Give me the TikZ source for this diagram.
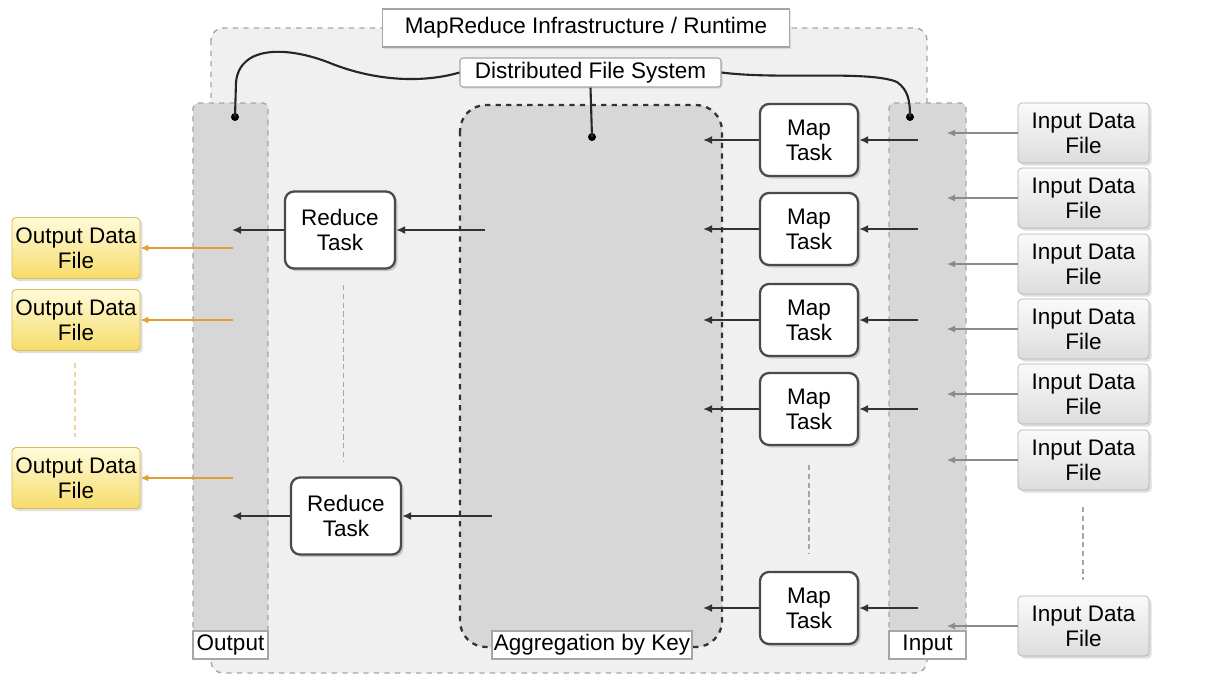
\documentclass[tikz,border=0pt]{standalone}
\usepackage{fontspec}
\setmainfont{Liberation Sans}
\usetikzlibrary{arrows.meta,shadows}
\newcommand\pxu{0.02cm}
\definecolor{framefill}{HTML}{F0F0F0}
\definecolor{framedraw}{HTML}{A6A6A6}
\definecolor{colfill}{HTML}{D7D7D7}
\definecolor{darkline}{HTML}{333333}
\definecolor{taskdraw}{HTML}{4A4A4A}
\definecolor{inarrowc}{HTML}{8A8A8A}
\definecolor{outarrowc}{HTML}{E0A030}
\definecolor{yellowtop}{HTML}{FFFBDA}
\definecolor{yellowbot}{HTML}{F6DC6A}
\definecolor{yellowdraw}{HTML}{D9BC58}
\definecolor{greytop}{HTML}{FAFAFA}
\definecolor{greybot}{HTML}{DDDDDD}
\tikzset{
  base/.style={font=\fontsize{12.8}{14.2}\selectfont, align=center, inner sep=0pt},
  task/.style={base, draw=taskdraw, line width=1.3pt, fill=white, rounded corners=9*\pxu,
    minimum width=98*\pxu, minimum height=72*\pxu,
    drop shadow={shadow xshift=2.5*\pxu, shadow yshift=-2.5*\pxu, opacity=0.35}},
  redtask/.style={task, minimum width=110*\pxu, minimum height=77*\pxu},
  infile/.style={base, draw=greybot!80!black, line width=0.4pt, top color=greytop, bottom color=greybot,
    rounded corners=4*\pxu, minimum width=131*\pxu, minimum height=60*\pxu,
    drop shadow={shadow xshift=2.5*\pxu, shadow yshift=-2.5*\pxu, opacity=0.25}},
  outfile/.style={base, draw=yellowdraw, line width=0.5pt, top color=yellowtop, bottom color=yellowbot,
    rounded corners=4*\pxu, minimum width=128*\pxu, minimum height=61*\pxu,
    drop shadow={shadow xshift=2.5*\pxu, shadow yshift=-2.5*\pxu, opacity=0.25}},
  labelbox/.style={base, draw=framedraw, line width=0.6pt, fill=white},
  tarrow/.style={draw=darkline, line width=1.1pt, -{Latex[length=9*\pxu,width=8*\pxu]}},
  inarrow/.style={draw=inarrowc, line width=0.6pt, -{Latex[length=8*\pxu,width=7*\pxu]}},
  outarrow/.style={draw=outarrowc, line width=0.8pt, -{Latex[length=8*\pxu,width=7*\pxu]}},
  dotsline/.style={draw=gray!70, line width=0.7pt, dash pattern=on 3pt off 2pt},
  wire/.style={draw=black!85, line width=1.2pt},
  dotmark/.style={circle, fill=black, inner sep=0pt, minimum size=8*\pxu},
}
\begin{document}
\begin{tikzpicture}[x=0.02cm, y=-0.02cm]
\useasboundingbox (0,0) rectangle (1228,677);

% runtime frame
\path[fill=framefill, draw=framedraw, dashed, line width=0.8pt, rounded corners=12*\pxu]
  (211,28) rectangle (927,673);
\node[labelbox, minimum width=407*\pxu, minimum height=38*\pxu,
  drop shadow={shadow xshift=1.5*\pxu, shadow yshift=-1.5*\pxu, opacity=0.2}]
  (title) at (586,28) {MapReduce Infrastructure / Runtime};

% output and input columns
\path[fill=colfill, draw=framedraw, dashed, line width=0.8pt, rounded corners=5*\pxu]
  (193,659) -- (193,103) -- (268,103) -- (268,659);
\path[fill=colfill, draw=framedraw, dashed, line width=0.8pt, rounded corners=5*\pxu]
  (889,659) -- (889,103) -- (966,103) -- (966,659);
\node[labelbox, minimum width=75*\pxu, minimum height=28*\pxu] (outlbl) at (230.5,645) {Output};
\node[labelbox, minimum width=77*\pxu, minimum height=28*\pxu] (inlbl) at (927.5,645) {Input};

% aggregation area
\path[fill=colfill, draw=darkline, dashed, line width=1.3pt, rounded corners=26*\pxu]
  (460,105) rectangle (722,647);
\node[labelbox, minimum width=200*\pxu, minimum height=28*\pxu] (agglbl) at (592,645) {Aggregation by Key};

% distributed file system
\node[labelbox, minimum width=261*\pxu, minimum height=29*\pxu, rounded corners=3*\pxu,
  drop shadow={shadow xshift=1.5*\pxu, shadow yshift=-1.5*\pxu, opacity=0.2}]
  (dfs) at (590.5,72.5) {Distributed File System};
\node[dotmark] (dotL) at (235,117) {};
\node[dotmark] (dotR) at (910,117) {};
\node[dotmark] (dotC) at (592,137) {};
\draw[wire] (dfs.west) .. controls (420,84) and (372,80) .. (330,63)
  .. controls (290,47) and (240,44) .. (236,82) -- (dotL.center);
\draw[wire] (dfs.east) .. controls (780,80) and (868,70) .. (897,82)
  .. controls (908,90) and (910,100) .. (dotR.center);
\draw[wire] (dfs.south) -- (dotC.center);

% map tasks
\foreach \i/\y in {1/140, 2/229, 3/320, 4/409, 5/608} {
  \node[task] (map\i) at (809,\y) {Map\\Task};
  \coordinate (mapin\i) at (918,\y);
  \coordinate (mapout\i) at (703,\y);
  \draw[tarrow] (mapin\i) -- (map\i.east);
  \draw[tarrow] (map\i.west) -- (mapout\i);
}
\coordinate (mapgapA) at (809,465);
\coordinate (mapgapB) at (809,553);
\draw[dotsline] (mapgapA) -- (mapgapB);

% reduce tasks
\node[redtask] (red1) at (340,230) {Reduce\\Task};
\node[redtask] (red2) at (346,516) {Reduce\\Task};
\coordinate (redin1) at (485,230);
\coordinate (redout1) at (232,230);
\coordinate (redin2) at (492,516);
\coordinate (redout2) at (232,516);
\draw[tarrow] (redin1) -- (red1.east);
\draw[tarrow] (red1.west) -- (redout1);
\draw[tarrow] (redin2) -- (red2.east);
\draw[tarrow] (red2.west) -- (redout2);
\coordinate (redgapA) at (343,285);
\coordinate (redgapB) at (343,462);
\draw[dotsline, line width=0.5pt] (redgapA) -- (redgapB);

% input data files
\foreach \i/\y in {1/133, 2/198, 3/264, 4/329, 5/394, 6/460, 7/626} {
  \node[infile] (in\i) at (1083.5,\y) {Input Data\\File};
  \coordinate (intip\i) at (947,\y);
  \draw[inarrow] (in\i.west) -- (intip\i);
}
\coordinate (ingapA) at (1083,507);
\coordinate (ingapB) at (1083,580);
\draw[dotsline] (ingapA) -- (ingapB);

% output data files
\foreach \i/\y in {1/248, 2/320, 3/478} {
  \node[outfile] (out\i) at (76,\y) {Output Data\\File};
  \coordinate (outsrc\i) at (233,\y);
  \draw[outarrow] (outsrc\i) -- (out\i.east);
}
\coordinate (outgapA) at (75,363);
\coordinate (outgapB) at (75,437);
\draw[dotsline, draw=outarrowc!45] (outgapA) -- (outgapB);
\end{tikzpicture}
\end{document}
